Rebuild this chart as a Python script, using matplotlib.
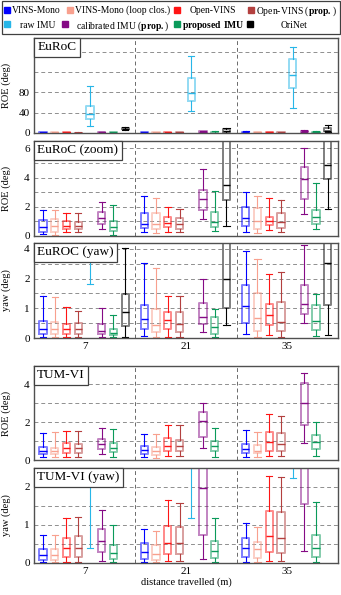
import numpy as np
import matplotlib.pyplot as plt
from matplotlib.lines import Line2D
from matplotlib.patches import Rectangle
from matplotlib.offsetbox import AnchoredText

plt.rcParams['font.family'] = ['Liberation Serif', 'DejaVu Serif']
plt.rcParams['mathtext.fontset'] = 'custom'
plt.rcParams['mathtext.rm'] = 'Liberation Serif'
plt.rcParams['mathtext.bf'] = 'Liberation Serif:bold'

distances = [7, 21, 35]
methods = ['VINS-Mono', 'VINS-Mono (loop clos.)', 'Open-VINS', r'Open-VINS ($\mathbf{prop.}$)',
           'raw IMU', r'calibrated IMU ($\mathbf{prop.}$)', r'$\mathbf{proposed\ IMU}$', 'OriNet']
colors = ['#0000ff', '#f8a08e', '#ff1414', '#b3403f', '#27b6e8', '#850a85', '#0a9a5a', '#000000']

# box stats per method, per distance: (whisker low, q1, median, q3, whisker high)
euroc_roe = [
    [(0.14, 0.29, 0.59, 1.09, 1.75), (0.25, 0.56, 0.82, 1.59, 2.74), (0.25, 0.70, 1.20, 2.00, 3.01)],
    [(0.10, 0.25, 0.68, 1.13, 1.75), (0.18, 0.48, 0.80, 1.59, 2.63), (0.18, 0.48, 1.04, 1.93, 2.74)],
    [(0.25, 0.45, 0.68, 1.02, 1.54), (0.30, 0.60, 0.90, 1.27, 2.00), (0.41, 0.75, 1.04, 1.31, 2.60)],
    [(0.25, 0.45, 0.68, 0.93, 1.54), (0.25, 0.48, 0.80, 1.20, 1.88), (0.25, 0.56, 0.97, 1.54, 2.45)],
    [(14, 27, 37, 53, 92), (43, 63, 78, 109, 152), (50, 89, 115, 145, 169)],
    [(0.45, 0.80, 1.20, 1.61, 2.33), (1.14, 1.77, 2.52, 3.17, 4.60), (1.48, 2.52, 3.88, 4.71, 6.03)],
    [(0.10, 0.34, 0.59, 1.02, 2.15), (0.34, 0.63, 0.95, 1.61, 3.08), (0.46, 0.80, 1.31, 1.77, 3.65)],
    [(6.8, 7.5, 8.2, 9.0, 11.0), (0.68, 2.45, 3.47, 7.5, 10.5), (1.84, 3.92, 4.83, 9.0, 16.0)],
]

euroc_yaw = [
    [(0.03, 0.15, 0.29, 0.58, 1.43), (0.08, 0.30, 0.64, 1.10, 3.06), (0.13, 0.52, 1.08, 1.77, 3.85)],
    [(0.03, 0.14, 0.30, 0.55, 1.38), (0.05, 0.21, 0.44, 0.98, 2.72), (0.03, 0.24, 0.69, 1.51, 3.29)],
    [(0.03, 0.14, 0.30, 0.46, 1.05), (0.05, 0.30, 0.59, 0.89, 1.42), (0.10, 0.44, 0.76, 1.14, 2.32)],
    [(0.03, 0.14, 0.30, 0.52, 0.92), (0.03, 0.21, 0.46, 0.87, 1.43), (0.03, 0.24, 0.53, 1.20, 2.45)],
    [(1.82, 6.0, 10.0, 16.0, 25.0), (6.0, 12.0, 20.0, 30.0, 45.0), (8.0, 18.0, 28.0, 40.0, 60.0)],
    [(0.03, 0.15, 0.25, 0.46, 1.00), (0.21, 0.46, 0.72, 1.18, 1.99), (0.50, 0.80, 1.14, 1.77, 4.24)],
    [(0.03, 0.10, 0.18, 0.30, 0.77), (0.03, 0.13, 0.36, 0.70, 0.98), (0.08, 0.27, 0.58, 1.10, 1.48)],
    [(0.03, 0.41, 0.87, 1.49, 4.03), (0.44, 1.00, 2.00, 5.50, 9.00), (0.10, 1.10, 3.02, 6.50, 12.0)],
]

tum_roe = [
    [(0.18, 0.30, 0.47, 0.67, 1.40), (0.15, 0.30, 0.53, 0.74, 1.35), (0.17, 0.35, 0.58, 0.84, 1.58)],
    [(0.15, 0.30, 0.47, 0.65, 1.46), (0.12, 0.28, 0.45, 0.70, 1.37), (0.15, 0.35, 0.50, 0.79, 1.49)],
    [(0.15, 0.35, 0.62, 0.88, 1.54), (0.20, 0.45, 0.74, 1.14, 1.84), (0.23, 0.50, 0.93, 1.49, 2.40)],
    [(0.15, 0.35, 0.62, 0.84, 1.54), (0.20, 0.45, 0.74, 1.05, 1.84), (0.20, 0.45, 0.86, 1.40, 2.32)],
    [None, None, None],
    [(0.30, 0.58, 0.83, 1.09, 1.70), (0.61, 1.23, 2.07, 2.54, 3.02), (0.88, 1.84, 3.02, 4.04, 4.56)],
    [(0.17, 0.44, 0.62, 0.91, 1.61), (0.17, 0.47, 0.74, 1.02, 1.67), (0.23, 0.58, 0.93, 1.32, 1.98)],
    [None, None, None],
]

tum_yaw = [
    [(0.02, 0.08, 0.21, 0.36, 0.75), (0.02, 0.10, 0.28, 0.52, 0.89), (0.02, 0.17, 0.40, 0.67, 1.06)],
    [(0.02, 0.08, 0.21, 0.36, 0.75), (0.02, 0.08, 0.25, 0.47, 0.84), (0.02, 0.14, 0.36, 0.56, 0.95)],
    [(0.02, 0.17, 0.40, 0.67, 1.19), (0.04, 0.23, 0.52, 0.98, 1.66), (0.04, 0.28, 0.72, 1.37, 2.30)],
    [(0.02, 0.17, 0.40, 0.71, 1.21), (0.04, 0.24, 0.53, 0.95, 1.59), (0.04, 0.27, 0.65, 1.35, 2.26)],
    [(0.40, 2.7, 3.5, 5.0, 8.0), (1.19, 2.8, 4.0, 6.0, 9.0), (2.23, 3.0, 4.5, 6.5, 10.0)],
    [(0.04, 0.28, 0.58, 0.89, 1.39), (0.11, 0.75, 1.97, 2.90, 4.00), (0.32, 1.54, 2.70, 3.50, 5.00)],
    [(0.02, 0.10, 0.27, 0.47, 1.00), (0.02, 0.12, 0.32, 0.58, 1.19), (0.02, 0.17, 0.40, 0.75, 1.60)],
    [None, None, None],
]


def fwd(y):
    y = np.asarray(y, dtype=float)
    return np.where(y <= 2, y, 2 + (y - 2) / 2)


def inv(u):
    u = np.asarray(u, dtype=float)
    return np.where(u <= 2, u, 2 + (u - 2) * 2)


def draw_boxes(ax, data):
    for i, series in enumerate(data):
        c = colors[i]
        for d, s in zip(distances, series):
            if s is None:
                continue
            st = dict(whislo=s[0], q1=s[1], med=s[2], q3=s[3], whishi=s[4], fliers=[])
            ax.bxp([st], positions=[d + (i - 3.55) * 1.62], widths=1.0, capwidths=0.85,
                   showfliers=False, manage_ticks=False,
                   boxprops=dict(color=c, alpha=0.5, lw=1.4),
                   medianprops=dict(color=c, lw=1.0),
                   whiskerprops=dict(color=c, lw=0.8),
                   capprops=dict(color=c, lw=0.8))


def rect(top, bottom):
    return [34 / 341, 1 - bottom / 595, 304 / 341, (bottom - top) / 595]


fig = plt.figure(figsize=(3.41, 5.95), dpi=100)

panels = [
    # data, title, ylabel, box, ylim, yticks, grid, show x labels
    (euroc_roe, 'EuRoC', 'ROE (deg)', (38, 133), (0, 187), [0, 40, 80], [40, 80, 120, 160], False),
    (euroc_roe, 'EuRoC (zoom)', 'ROE (deg)', (141, 236), (0, 6.5), [0, 2, 4, 6], [1, 2, 3, 4, 5, 6], False),
    (euroc_yaw, 'EuROC (yaw)', 'yaw (deg)', (243, 338), (0, 4.4), [0, 1, 2, 4], [0.5, 1, 1.5, 2, 3, 4], True),
    (tum_roe, 'TUM-VI', 'ROE (deg)', (366, 460), (0, 4.95), [0, 2, 4], [1, 2, 3, 4], False),
    (tum_yaw, 'TUM-VI (yaw)', 'yaw (deg)', (468, 563), (0, 2.5), [0, 1, 2], [0.5, 1, 1.5, 2], True),
]

for data, title, ylab, (top, bot), ylim, yticks, grid, xlab in panels:
    ax = fig.add_axes(rect(top, bot))
    if 'yaw' in title and 'EuROC' in title:
        ax.set_yscale('function', functions=(fwd, inv))
    for g in grid:
        ax.axhline(g, color='#8f8f8f', lw=0.7, ls=(0, (4, 3)), zorder=0)
    for v in [14, 28]:
        ax.axvline(v, color='#6a6a6a', lw=0.7, ls=(0, (4, 3)), zorder=0)
    draw_boxes(ax, data)
    ax.set_xlim(0, 42)
    ax.set_ylim(*ylim)
    ax.set_yticks(yticks)
    ax.set_yticklabels([str(t) for t in yticks])
    ax.minorticks_off()
    ax.set_xticks(distances)
    if xlab:
        ax.set_xticklabels([str(d) for d in distances])
    else:
        ax.set_xticklabels([])
    ax.tick_params(length=0, labelsize=8, pad=3)
    ax.set_ylabel(ylab, fontsize=7.5)
    ax.yaxis.set_label_coords(-0.075, 0.5)
    for sp in ax.spines.values():
        sp.set_color('#505050')
        sp.set_linewidth(1.0)
    at = AnchoredText(title, loc='upper left', pad=0.25, borderpad=0.0,
                      prop=dict(size=9.5, family='Liberation Serif'), frameon=True)
    at.patch.set_edgecolor('#404040')
    at.patch.set_linewidth(0.9)
    at.set_zorder(10)
    ax.add_artist(at)
    if title == 'TUM-VI (yaw)':
        ax.set_xlabel('distance travelled (m)', fontsize=7.5, labelpad=1)

# legend laid out as a two-row table like the original (pixel positions)
W, H = 341, 595
marker_x = [7, 70, 177, 251, 7, 65, 177, 250]
text_x = [12, 75, 190, 256, 20, 76, 182, 281]
row_y = [9.5, 9.5, 9.5, 9.5, 24, 24, 24, 24]
fig.add_artist(Rectangle((2 / W, 1 - 34 / H), 337.5 / W, 33 / H, transform=fig.transFigure,
                         facecolor='white', edgecolor='#404040', lw=0.9))
for i in range(8):
    fig.add_artist(Line2D([marker_x[i] / W], [1 - row_y[i] / H], transform=fig.transFigure,
                          marker='s', ms=3.8, ls='none', color=colors[i]))
    fig.text(text_x[i] / W, 1 - row_y[i] / H, methods[i], fontsize=6.9,
             ha='left', va='center_baseline')

fig.savefig('out.png', dpi=100)
